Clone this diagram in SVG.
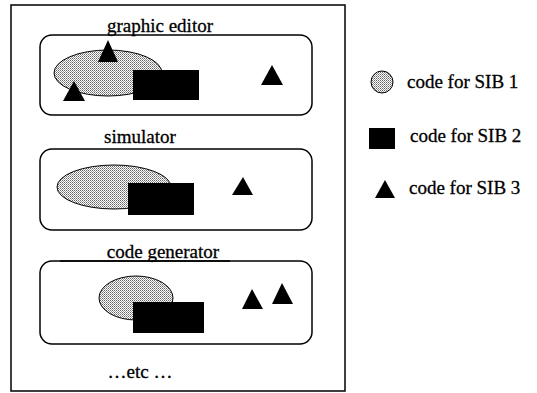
<svg xmlns="http://www.w3.org/2000/svg" width="537" height="393" viewBox="0 0 537 393">
<style>
.t{font-family:"Liberation Serif","Times New Roman",serif;font-size:19px;fill:#000;stroke:#000;stroke-width:0.3}
.box{fill:none;stroke:#000;stroke-width:1.5}
.ell{fill:url(#dots);stroke:#000;stroke-width:1}
.blk{fill:#000}
</style>
<defs>
<pattern id="dots" width="2" height="2" patternUnits="userSpaceOnUse">
<rect width="2" height="2" fill="#fff"/>
<rect width="1" height="1" fill="#666"/>
<rect x="1" y="1" width="1" height="1" fill="#999"/>
</pattern>
</defs>
<rect width="537" height="393" fill="#fff"/>
<rect x="11" y="5" width="334" height="386" fill="none" stroke="#000" stroke-width="1.5"/>
<g id="graphic-editor">
<rect class="box" x="40" y="35" width="272" height="80" rx="12"/>
<text class="t" x="160" y="32" text-anchor="middle">graphic editor</text>
<ellipse class="ell" cx="108" cy="73" rx="54" ry="23"/>
<rect class="blk" x="133" y="70" width="66" height="30"/>
<polygon class="blk" points="108,40 118,62 98,62"/>
<polygon class="blk" points="74,81 85,101 63,101"/>
<polygon class="blk" points="272,65 283,85 261,85"/>
</g>
<g id="simulator">
<rect class="box" x="40" y="149" width="272" height="81" rx="12"/>
<text class="t" x="140" y="143" text-anchor="middle">simulator</text>
<ellipse class="ell" cx="114" cy="187" rx="57" ry="22"/>
<rect class="blk" x="128" y="183" width="66" height="32"/>
<polygon class="blk" points="243,177 253,195 232,195"/>
</g>
<g id="code-generator">
<rect class="box" x="40" y="261" width="272" height="83" rx="12"/>
<line x1="60" y1="261" x2="230" y2="261" stroke="#000" stroke-width="1.5"/>
<text class="t" x="163" y="258" text-anchor="middle">code generator</text>
<ellipse class="ell" cx="136" cy="298" rx="37" ry="22"/>
<rect class="blk" x="133" y="302" width="71" height="31"/>
<polygon class="blk" points="252,289 263,309 242,309"/>
<polygon class="blk" points="282,283 293,304 272,304"/>
</g>
<text class="t" x="140" y="378" text-anchor="middle">…etc …</text>
<g id="legend">
<circle class="ell" cx="382" cy="82" r="11"/>
<text class="t" x="407" y="88">code for SIB 1</text>
<rect class="blk" x="369" y="128" width="26" height="21"/>
<text class="t" x="410" y="142">code for SIB 2</text>
<polygon class="blk" points="385,180 395,198 375,198"/>
<text class="t" x="409" y="194">code for SIB 3</text>
</g>
<g id="connectors"/>
</svg>
